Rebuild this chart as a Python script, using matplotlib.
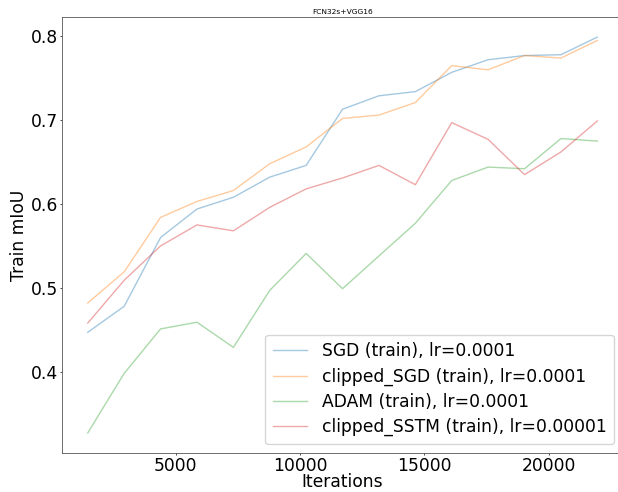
import matplotlib
matplotlib.use("Agg")
import matplotlib.pyplot as plt

iterations = [1464, 2928, 4392, 5856, 7320, 8784, 10248, 11712, 13176, 14640,
              16104, 17568, 19032, 20496, 21960]
sgd = [0.447, 0.478, 0.560, 0.594, 0.608, 0.632, 0.646, 0.713, 0.729, 0.734,
       0.757, 0.772, 0.777, 0.778, 0.799]
clipped_sgd = [0.482, 0.519, 0.584, 0.603, 0.616, 0.648, 0.668, 0.702, 0.706, 0.721,
               0.765, 0.760, 0.777, 0.774, 0.795]
adam = [0.327, 0.398, 0.451, 0.459, 0.429, 0.497, 0.541, 0.499, 0.538, 0.577,
        0.628, 0.644, 0.642, 0.678, 0.675]
clipped_sstm = [0.458, 0.509, 0.550, 0.575, 0.568, 0.596, 0.618, 0.631, 0.646, 0.623,
                0.697, 0.677, 0.635, 0.662, 0.699]
labels = ["SGD (train), lr=0.0001", "clipped_SGD (train), lr=0.0001",
          "ADAM (train), lr=0.0001", "clipped_SSTM (train), lr=0.00001"]

fig = plt.figure(figsize=(6.18, 4.92), dpi=100)
ax = fig.add_axes([62.3 / 618, 39.3 / 492, (622.8 - 62.3) / 618, (452.7 - 17.3) / 492])

for ys, lab in zip([sgd, clipped_sgd, adam, clipped_sstm], labels):
    ax.plot(iterations, ys, label=lab, alpha=0.4, lw=1.0)

fs = 12.3
ax.set_title("FCN32s+VGG16", fontsize=5.4, pad=2.5)
ax.set_xlabel("Iterations", fontsize=fs, labelpad=-1)
ax.set_ylabel("Train mIoU", fontsize=fs, labelpad=2)
ax.tick_params(labelsize=fs, length=1.5, width=0.5, pad=1.5)
for sp in ax.spines.values():
    sp.set_linewidth(0.6)
    sp.set_color("#555555")
ax.legend(loc="lower right", fontsize=fs, frameon=True, handlelength=2.0,
          handletextpad=0.85, labelspacing=0.42, borderpad=0.45)

fig.savefig("out.png", dpi=100)
